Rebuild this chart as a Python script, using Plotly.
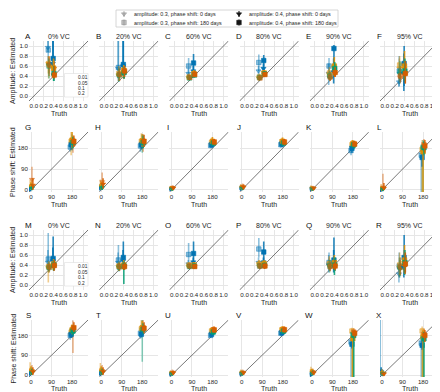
import plotly.graph_objects as go

W, H = 440, 392

# ---------------- labels / categories ----------------
vc_labels = ["0% VC", "20% VC", "60% VC", "80% VC", "90% VC", "95% VC"]
row_letters = ["ABCDEF", "GHIJKL", "MNOPQR", "STUVWX"]
row_kind = ["amp", "phase", "amp", "phase"]
alpha_labels = ["0.01", "0.05", "0.1", "0.2"]
palette = [(1, 115, 178), (222, 143, 5), (2, 158, 115), (213, 94, 0)]
series_labels = ["amplitude: 0.3, phase shift: 0 days", "amplitude: 0.3, phase shift: 180 days",
                 "amplitude: 0.4, phase shift: 0 days", "amplitude: 0.4, phase shift: 180 days"]
series_amp = [0.3, 0.3, 0.4, 0.4]
series_phase = [0, 180, 0, 180]
amp_ticks = [0.0, 0.2, 0.4, 0.6, 0.8, 1.0]
phase_ticks = [0, 90, 180]

# ---------------- data: [series][alpha level] ----------------
# series order: amp0.3/ph0, amp0.3/ph180, amp0.4/ph0, amp0.4/ph180 ; alpha: 0.01,0.05,0.1,0.2
A_est = [[0.97, 0.65, 0.62, 0.63], [0.92, 0.65, 0.60, 0.62], [0.65, 0.58, 0.42, 0.55], [0.75, 0.55, 0.45, 0.42]]
A_lo = [[0.88, 0.45, 0.40, 0.45], [0.60, 0.35, 0.35, 0.40], [0.50, 0.40, 0.30, 0.40], [0.55, 0.35, 0.30, 0.35]]
A_hi = [[1.15, 0.80, 0.75, 0.80], [1.15, 0.80, 0.75, 0.78], [1.15, 0.80, 0.60, 0.70], [1.15, 0.75, 0.60, 0.60]]

B_est = [[0.55, 0.42, 0.40, 0.42], [0.57, 0.45, 0.42, 0.43], [0.60, 0.48, 0.45, 0.47], [0.63, 0.52, 0.47, 0.50]]
B_lo = [[0.35, 0.30, 0.28, 0.30], [0.30, 0.30, 0.30, 0.30], [0.40, 0.35, 0.35, 0.35], [0.45, 0.38, 0.35, 0.38]]
B_hi = [[1.15, 0.55, 0.50, 0.55], [1.15, 0.60, 0.55, 0.55], [1.15, 0.60, 0.55, 0.60], [1.15, 0.62, 0.58, 0.60]]

C_est = [[0.45, 0.37, 0.35, 0.36], [0.60, 0.38, 0.36, 0.37], [0.50, 0.45, 0.41, 0.44], [0.66, 0.45, 0.42, 0.43]]
C_lo = [[0.38, 0.33, 0.32, 0.33], [0.40, 0.33, 0.32, 0.32], [0.42, 0.40, 0.38, 0.40], [0.50, 0.40, 0.38, 0.38]]
C_hi = [[0.55, 0.42, 0.40, 0.40], [0.76, 0.45, 0.42, 0.42], [0.60, 0.50, 0.46, 0.50], [0.84, 0.52, 0.48, 0.50]]

D_est = [[0.50, 0.36, 0.35, 0.36], [0.67, 0.38, 0.37, 0.36], [0.55, 0.47, 0.43, 0.45], [0.71, 0.46, 0.44, 0.43]]
D_lo = [[0.40, 0.32, 0.31, 0.32], [0.50, 0.33, 0.32, 0.32], [0.45, 0.42, 0.39, 0.40], [0.52, 0.40, 0.39, 0.38]]
D_hi = [[0.60, 0.42, 0.40, 0.42], [0.83, 0.45, 0.43, 0.42], [0.65, 0.52, 0.48, 0.50], [0.82, 0.52, 0.50, 0.48]]

E_est = [[0.45, 0.44, 0.38, 0.36], [0.60, 0.46, 0.40, 0.38], [0.48, 0.58, 0.52, 0.45], [0.95, 0.60, 0.55, 0.47]]
E_lo = [[0.22, 0.35, 0.30, 0.30], [0.35, 0.35, 0.32, 0.30], [0.25, 0.40, 0.40, 0.38], [0.55, 0.42, 0.42, 0.38]]
E_hi = [[0.65, 0.55, 0.48, 0.45], [0.76, 0.58, 0.50, 0.48], [0.75, 0.75, 0.65, 0.55], [1.02, 0.78, 0.68, 0.58]]

F_est = [[0.28, 0.55, 0.45, 0.38], [0.50, 0.62, 0.48, 0.40], [0.45, 0.55, 0.47, 0.42], [0.65, 0.60, 0.50, 0.45]]
F_lo = [[0.18, 0.30, 0.25, 0.25], [0.20, 0.35, 0.30, 0.28], [0.10, 0.30, 0.28, 0.25], [0.20, 0.35, 0.30, 0.25]]
F_hi = [[0.55, 0.75, 0.65, 0.55], [0.80, 0.80, 0.70, 0.60], [0.85, 0.80, 0.70, 0.65], [1.00, 0.90, 0.75, 0.70]]

G_est = [[5, 18, 10, 45], [185, 210, 205, 200], [3, 15, 8, 20], [195, 215, 205, 210]]
G_lo = [[-5, 0, 0, 10], [165, 150, 170, 160], [-5, 0, 0, 0], [175, 180, 180, 185]]
G_hi = [[20, 45, 30, 100], [205, 255, 240, 235], [12, 35, 25, 50], [215, 250, 230, 235]]

H_est = [[10, 20, 12, 35], [190, 210, 200, 205], [8, 15, 10, 25], [195, 212, 205, 210]]
H_lo = [[-5, 0, 0, 10], [165, 175, 160, 165], [0, 0, 0, 5], [175, 185, 180, 185]]
H_hi = [[25, 45, 30, 75], [215, 245, 240, 240], [20, 35, 25, 50], [215, 240, 235, 238]]

I_est = [[5, 8, 6, 10], [192, 205, 200, 202], [4, 7, 5, 8], [195, 210, 203, 207]]
I_lo = [[0, 0, 0, 0], [180, 190, 188, 190], [0, 0, 0, 0], [183, 195, 190, 195]]
I_hi = [[12, 18, 14, 20], [205, 225, 215, 218], [10, 15, 12, 18], [208, 228, 215, 220]]

J_est = [[8, 12, 10, 15], [195, 208, 202, 205], [6, 10, 8, 12], [198, 210, 203, 207]]
J_lo = [[0, 0, 0, 0], [182, 192, 188, 190], [0, 0, 0, 2], [185, 195, 190, 193]]
J_hi = [[18, 25, 20, 28], [210, 225, 216, 220], [14, 20, 16, 24], [210, 226, 216, 220]]

K_est = [[5, 8, 6, 8], [170, 195, 190, 195], [4, 6, 5, 7], [180, 200, 195, 198]]
K_lo = [[0, 0, 0, 0], [150, 175, 170, 178], [0, 0, 0, 0], [160, 185, 180, 185]]
K_hi = [[15, 20, 15, 18], [195, 215, 210, 212], [12, 15, 12, 15], [200, 215, 210, 212]]

L_est = [[3, 8, 5, 12], [150, 175, 185, 195], [2, 5, 4, 8], [140, 165, 182, 190]]
L_lo = [[-5, -5, -5, 0], [-30, -30, -30, 150], [-5, -5, -5, 0], [100, -30, 150, 160]]
L_hi = [[10, 25, 15, 70], [190, 215, 215, 220], [8, 15, 12, 30], [170, 200, 210, 215]]

M_est = [[0.45, 0.35, 0.33, 0.35], [0.52, 0.37, 0.35, 0.36], [0.48, 0.40, 0.37, 0.38], [0.53, 0.42, 0.40, 0.39]]
M_lo = [[0.30, 0.05, 0.25, 0.25], [0.35, 0.25, 0.27, 0.27], [0.35, 0.30, 0.28, 0.28], [0.40, 0.32, 0.30, 0.30]]
M_hi = [[0.70, 0.45, 0.42, 0.45], [1.04, 0.48, 0.45, 0.45], [0.75, 0.50, 0.47, 0.47], [0.97, 0.52, 0.50, 0.50]]

N_est = [[0.45, 0.37, 0.35, 0.36], [0.50, 0.38, 0.36, 0.37], [0.48, 0.38, 0.35, 0.37], [0.55, 0.40, 0.38, 0.37]]
N_lo = [[0.30, 0.28, 0.27, 0.28], [0.35, 0.30, 0.28, 0.28], [0.35, 0.30, 0.02, 0.30], [0.40, 0.32, 0.30, 0.30]]
N_hi = [[0.65, 0.45, 0.43, 0.44], [0.80, 0.47, 0.45, 0.45], [0.70, 0.47, 0.45, 0.45], [0.87, 0.50, 0.47, 0.45]]

O_est = [[0.42, 0.38, 0.36, 0.37], [0.61, 0.40, 0.37, 0.38], [0.46, 0.39, 0.37, 0.37], [0.63, 0.40, 0.38, 0.37]]
O_lo = [[0.35, 0.33, 0.32, 0.33], [0.45, 0.34, 0.32, 0.33], [0.38, 0.34, 0.33, 0.33], [0.46, 0.35, 0.33, 0.33]]
O_hi = [[0.50, 0.43, 0.40, 0.42], [0.84, 0.46, 0.42, 0.43], [0.55, 0.44, 0.41, 0.42], [0.87, 0.46, 0.43, 0.42]]

P_est = [[0.45, 0.42, 0.38, 0.37], [0.72, 0.42, 0.38, 0.38], [0.46, 0.42, 0.38, 0.37], [0.66, 0.43, 0.39, 0.38]]
P_lo = [[0.35, 0.35, 0.33, 0.32], [0.55, 0.35, 0.33, 0.33], [0.38, 0.36, 0.34, 0.33], [0.45, 0.37, 0.34, 0.33]]
P_hi = [[0.55, 0.50, 0.44, 0.42], [0.94, 0.50, 0.44, 0.44], [0.55, 0.48, 0.43, 0.42], [0.87, 0.50, 0.45, 0.43]]

Q_est = [[0.40, 0.42, 0.38, 0.36], [0.45, 0.43, 0.38, 0.37], [0.42, 0.40, 0.38, 0.37], [0.50, 0.45, 0.40, 0.38]]
Q_lo = [[0.25, 0.30, 0.25, 0.27], [0.30, 0.30, 0.28, 0.28], [0.25, 0.30, 0.20, 0.28], [0.30, 0.32, 0.28, 0.30]]
Q_hi = [[0.60, 0.55, 0.50, 0.46], [0.65, 0.58, 0.50, 0.47], [0.70, 0.55, 0.50, 0.48], [0.95, 0.60, 0.55, 0.50]]

R_est = [[0.22, 0.35, 0.32, 0.33], [0.38, 0.40, 0.35, 0.36], [0.35, 0.45, 0.40, 0.38], [0.55, 0.50, 0.45, 0.42]]
R_lo = [[0.05, 0.15, 0.15, 0.18], [0.15, 0.20, 0.18, 0.20], [0.15, 0.25, 0.20, 0.22], [0.30, 0.30, 0.25, 0.25]]
R_hi = [[0.40, 0.55, 0.50, 0.50], [0.65, 0.65, 0.55, 0.55], [0.60, 0.70, 0.65, 0.60], [1.00, 0.80, 0.70, 0.65]]

S_est = [[8, 25, 15, 20], [180, 195, 200, 205], [6, 18, 12, 15], [185, 205, 200, 215]]
S_lo = [[0, 5, 0, 0], [160, 170, 175, 100], [0, 0, 0, 0], [168, 185, 180, 195]]
S_hi = [[20, 58, 35, 45], [200, 225, 225, 248], [15, 40, 28, 35], [205, 230, 225, 240]]

T_est = [[8, 25, 15, 20], [190, 210, 205, 215], [6, 18, 12, 15], [185, 215, 208, 212]]
T_lo = [[0, 5, 0, 0], [165, 185, 60, 190], [0, 0, 0, 0], [170, 195, 185, 190]]
T_hi = [[20, 55, 35, 45], [215, 250, 260, 250], [15, 40, 28, 35], [205, 245, 235, 240]]

U_est = [[5, 10, 8, 12], [180, 200, 195, 205], [4, 8, 6, 10], [185, 202, 196, 205]]
U_lo = [[0, 0, 0, 0], [168, 185, 180, 190], [0, 0, 0, 0], [172, 188, 182, 192]]
U_hi = [[12, 22, 18, 25], [195, 218, 210, 222], [10, 18, 14, 20], [198, 218, 210, 220]]

V_est = [[6, 12, 9, 12], [190, 205, 198, 205], [5, 9, 7, 10], [192, 207, 200, 206]]
V_lo = [[0, 0, 0, 0], [175, 188, 182, 190], [0, 0, 0, 0], [178, 192, 186, 192]]
V_hi = [[14, 25, 20, 25], [205, 222, 214, 222], [12, 20, 16, 20], [206, 222, 214, 220]]

W_est = [[5, 20, 10, 15], [150, 200, 185, 195], [4, 12, 8, 10], [140, 165, 180, 190]]
W_lo = [[-9, 0, -5, 0], [-30, -30, -30, 175], [-5, 0, 0, 0], [120, -30, -30, 170]]
W_hi = [[15, 38, 25, 30], [175, 215, 205, 212], [12, 28, 20, 22], [160, 195, 200, 205]]

X_est = [[20, 12, 8, 6], [145, 200, 170, 185], [15, 10, 6, 5], [135, 175, 165, 180]]
X_lo = [[-30, 0, 0, -5], [-30, -30, -30, 160], [0, 0, 0, -5], [115, -30, -30, 150]]
X_hi = [[280, 30, 20, 18], [175, 220, 200, 210], [35, 25, 15, 12], [155, 205, 195, 205]]

panel_est = [[A_est, B_est, C_est, D_est, E_est, F_est], [G_est, H_est, I_est, J_est, K_est, L_est],
             [M_est, N_est, O_est, P_est, Q_est, R_est], [S_est, T_est, U_est, V_est, W_est, X_est]]
panel_lo = [[A_lo, B_lo, C_lo, D_lo, E_lo, F_lo], [G_lo, H_lo, I_lo, J_lo, K_lo, L_lo],
            [M_lo, N_lo, O_lo, P_lo, Q_lo, R_lo], [S_lo, T_lo, U_lo, V_lo, W_lo, X_lo]]
panel_hi = [[A_hi, B_hi, C_hi, D_hi, E_hi, F_hi], [G_hi, H_hi, I_hi, J_hi, K_hi, L_hi],
            [M_hi, N_hi, O_hi, P_hi, Q_hi, R_hi], [S_hi, T_hi, U_hi, V_hi, W_hi, X_hi]]

# ---------------- geometry & style ----------------
FONT = "Liberation Sans, Arial, sans-serif"
TXT = "#262626"
GRID = "#E6E6E6"
col_left = [21 + 70.2 * i for i in range(6)]
PW = 59
row_top = [33, 124, 222, 312]
row_bot = [93, 184, 282, 369]
truth_off = [12.5, 12.5, 12.5, 11]
amp_range = [-0.1, 1.1]
phase_range = [-9, 250]
amp_off = [-0.012, -0.004, 0.004, 0.012]
amp_sub = [-0.003, 0.003, -0.003, 0.003]
ph_off = [-6, -2, 2, 6]
ph_sub = [-2, -2, 2, 2]


def rgba(c, a):
    return f"rgba({c[0]},{c[1]},{c[2]},{a})"


def px(x):
    return x / W


def py(y):
    return 1 - y / H


fig = go.Figure()
layout = dict(width=W, height=H, margin=dict(l=0, r=0, t=0, b=0),
              paper_bgcolor="white", plot_bgcolor="rgba(0,0,0,0)", showlegend=False,
              font=dict(family=FONT, color=TXT, size=7))
shapes = []
annotations = []

for r in range(4):
    kind = row_kind[r]
    rng = amp_range if kind == "amp" else phase_range
    ticks = amp_ticks if kind == "amp" else phase_ticks
    ticktext = [f"{v:.1f}" for v in ticks] if kind == "amp" else [str(v) for v in ticks]
    for c in range(6):
        n = r * 6 + c + 1
        xa = "x" if n == 1 else f"x{n}"
        ya = "y" if n == 1 else f"y{n}"
        common = dict(range=rng, tickvals=ticks, ticktext=ticktext, showgrid=True, gridcolor=GRID,
                      gridwidth=0.8, zeroline=False, showline=False, ticks="", tickangle=0,
                      tickfont=dict(size=6.2, color=TXT, family=FONT), fixedrange=True)
        layout["xaxis" + ("" if n == 1 else str(n))] = dict(
            domain=[px(col_left[c]), px(col_left[c] + PW)], anchor=ya, **common)
        layout["yaxis" + ("" if n == 1 else str(n))] = dict(
            domain=[py(row_bot[r]), py(row_top[r])], anchor=xa, showticklabels=(c == 0), **common)
        # identity line
        shapes.append(dict(type="line", xref=xa, yref=ya, x0=rng[0], y0=rng[0], x1=rng[1], y1=rng[1],
                           line=dict(color="#555555", width=0.8), layer="between"))
        est, lo, hi = panel_est[r][c], panel_lo[r][c], panel_hi[r][c]
        for s in range(4):
            light = series_amp[s] == 0.3
            sym = "triangle-down" if series_phase[s] == 0 else "square"
            for k in range(4):
                col = palette[k]
                if kind == "amp":
                    xv = series_amp[s] + amp_off[k] + amp_sub[s]
                else:
                    xv = series_phase[s] + ph_off[k] + ph_sub[s]
                e = est[s][k]
                fig.add_trace(go.Scatter(
                    x=[xv], y=[e], mode="markers", xaxis=xa, yaxis=ya, hoverinfo="skip",
                    marker=dict(symbol=sym, size=4.5,
                                color=rgba(col, 0.45 if light else 1.0),
                                line=dict(color=rgba(col, 0.75 if light else 1.0), width=0.6)),
                    error_y=dict(type="data", symmetric=False, array=[hi[s][k] - e],
                                 arrayminus=[e - lo[s][k]], width=0, thickness=1.6,
                                 color=rgba(col, 0.45 if light else 0.85))))
        # panel letter and title
        annotations.append(dict(text=row_letters[r][c], x=px(col_left[c] - 1), y=py(row_top[r] - 4.5),
                                xref="paper", yref="paper", showarrow=False, xanchor="center",
                                yanchor="middle", font=dict(size=8, color="#111111")))
        if r in (0, 2):
            annotations.append(dict(text=vc_labels[c], x=px(col_left[c] + PW / 2), y=py(row_top[r] - 4.5),
                                    xref="paper", yref="paper", showarrow=False, xanchor="center",
                                    yanchor="middle", font=dict(size=7, color=TXT)))
        annotations.append(dict(text="Truth", x=px(col_left[c] + PW / 2), y=py(row_bot[r] + truth_off[r]),
                                xref="paper", yref="paper", showarrow=False, xanchor="center",
                                yanchor="middle", font=dict(size=7, color=TXT)))
    ytitle = "Amplitude: Estimated" if kind == "amp" else "Phase shift: Estimated"
    annotations.append(dict(text=ytitle, x=px(5), y=py((row_top[r] + row_bot[r]) / 2), xref="paper",
                            yref="paper", showarrow=False, textangle=-90, xanchor="center",
                            yanchor="middle", font=dict(size=7, color=TXT)))

# ---------------- legends (decoration) ----------------
layout["xaxis25"] = dict(domain=[0, 1], range=[0, W], visible=False, anchor="y25", fixedrange=True)
layout["yaxis25"] = dict(domain=[0, 1], range=[H, 0], visible=False, anchor="x25", fixedrange=True)

# top legend
shapes.append(dict(type="rect", xref="paper", yref="paper", x0=px(108), x1=px(330), y0=py(19), y1=py(2),
                   line=dict(color="#CCCCCC", width=0.8), fillcolor="white", layer="below"))
leg_pos = [(116, 6), (116, 14.5), (231, 6), (231, 14.5)]
for s in range(4):
    light = series_amp[s] == 0.3
    gcol = (120, 120, 120) if light else (20, 20, 20)
    lx, ly = leg_pos[s]
    fig.add_trace(go.Scatter(
        x=[lx], y=[ly], mode="markers", xaxis="x25", yaxis="y25", hoverinfo="skip", cliponaxis=False,
        marker=dict(symbol="triangle-down" if series_phase[s] == 0 else "square", size=4.5,
                    color=rgba(gcol, 0.45 if light else 1.0), line=dict(color=rgba(gcol, 0.7 if light else 1), width=0.6)),
        error_y=dict(type="constant", value=3, width=0, thickness=1.2, color=rgba(gcol, 0.45 if light else 0.9))))
    annotations.append(dict(text=series_labels[s], x=px(lx + 8), y=py(ly), xref="paper", yref="paper",
                            showarrow=False, xanchor="left", yanchor="middle", font=dict(size=5.4, color=TXT)))

# inner colour legends (panels A and M)
for r in (0, 2):
    top = row_top[r]
    shapes.append(dict(type="rect", xref="paper", yref="paper", x0=px(56.5), x1=px(80),
                       y0=py(top + 56), y1=py(top + 32.5), line=dict(color="#DDDDDD", width=0.6),
                       fillcolor="white", layer="above"))
    for k in range(4):
        ly = top + 36.5 + 5.5 * k
        fig.add_trace(go.Scatter(
            x=[62.5], y=[ly], mode="markers", xaxis="x25", yaxis="y25", hoverinfo="skip", cliponaxis=False,
            marker=dict(symbol="triangle-down", size=4, color=rgba(palette[k], 1)),
            error_y=dict(type="constant", value=2.2, width=0, thickness=1, color=rgba(palette[k], 0.9))))
        annotations.append(dict(text=alpha_labels[k], x=px(68), y=py(ly), xref="paper", yref="paper",
                                showarrow=False, xanchor="left", yanchor="middle",
                                font=dict(size=4.8, color=TXT)))

layout["shapes"] = shapes
layout["annotations"] = annotations
fig.update_layout(**layout)
fig.write_html("out.html")
